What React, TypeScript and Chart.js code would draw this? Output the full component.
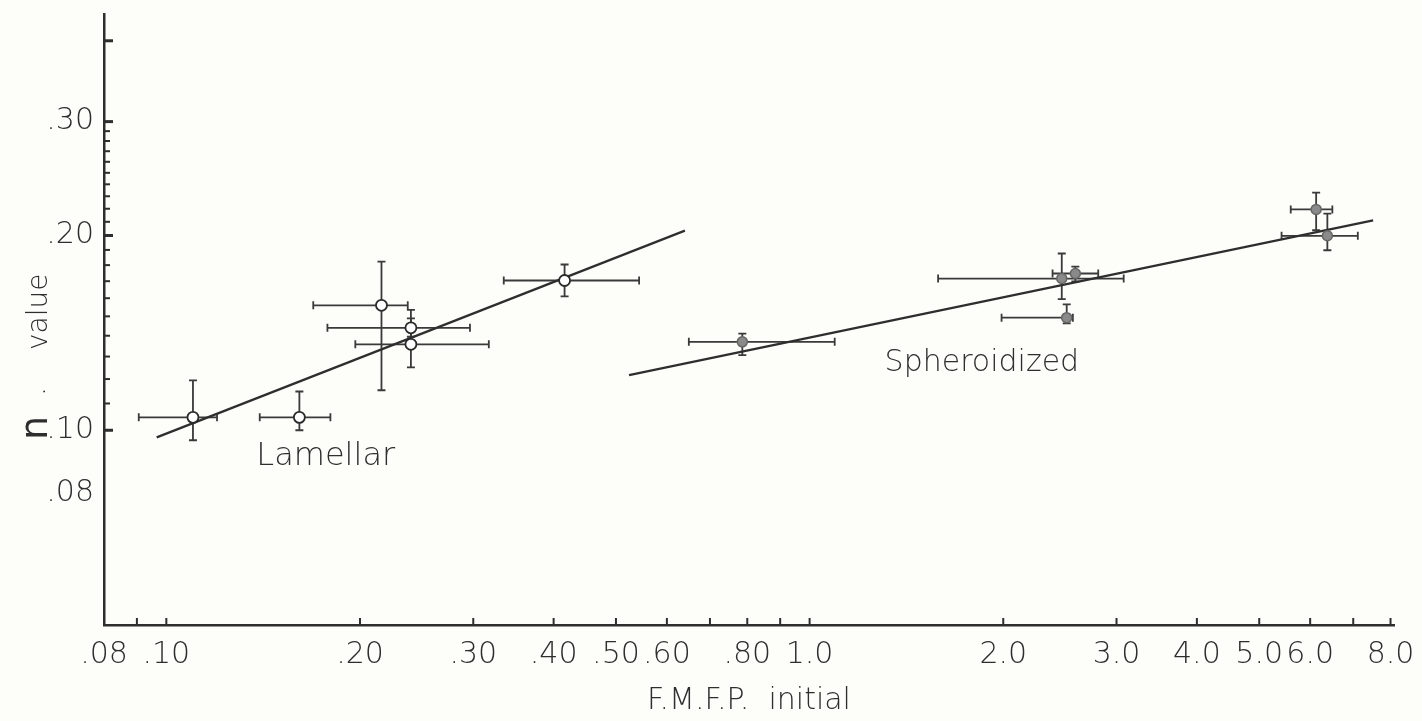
import React, { useEffect, useRef } from 'react';
import { Chart, registerables } from 'chart.js';

Chart.register(...registerables);

const FONT = '"DejaVu Sans", "Liberation Sans", sans-serif';
const INK = '#2e2e2e';

// ---- Lamellar (open circles) ----
const lamX = [0.110, 0.161, 0.216, 0.240, 0.240, 0.416];
const lamY = [0.1047, 0.1047, 0.156, 0.144, 0.1358, 0.1704];
const lamXLo = [0.0906, 0.1397, 0.1692, 0.178, 0.1967, 0.3346];
const lamXHi = [0.1199, 0.1799, 0.2373, 0.2965, 0.3172, 0.5432];
const lamYLo = [0.0965, 0.100, 0.1153, 0.1395, 0.1251, 0.161];
const lamYHi = [0.1194, 0.1148, 0.1823, 0.1535, 0.1489, 0.1804];
const lamFitX = [0.0966, 0.64];
const lamFitY = [0.0975, 0.2035];

// ---- Spheroidized (filled grey circles) ----
const sphX = [0.786, 2.466, 2.589, 2.510, 6.13, 6.381];
const sphY = [0.137, 0.1716, 0.1747, 0.1493, 0.2195, 0.1998];
const sphXLo = [0.649, 1.584, 2.386, 1.988, 5.597, 5.416];
const sphXHi = [1.094, 3.078, 2.81, 2.566, 6.496, 7.116];
const sphYLo = [0.1307, 0.1595, 0.1698, 0.1463, 0.2038, 0.1898];
const sphYHi = [0.1411, 0.1876, 0.1791, 0.1565, 0.233, 0.2162];
const sphFitX = [0.524, 7.517];
const sphFitY = [0.1217, 0.2111];

// ---- Axes ----
const xTickValues = [0.08, 0.1, 0.2, 0.3, 0.4, 0.5, 0.6, 0.8, 1, 2, 3, 4, 5, 6, 8];
const xTickLabels = ['.08', '.10', '.20', '.30', '.40', '.50', '.60', '.80', '1.0', '2.0', '3.0', '4.0', '5.0', '6.0', '8.0'];
const xMarkValues = [0.09, 0.1, 0.2, 0.3, 0.4, 0.5, 0.6, 0.7, 0.8, 0.9, 1, 2, 3, 4, 5, 6, 7, 8];
const yTickValues = [0.08, 0.1, 0.2, 0.3];
const yTickLabels = ['.08', '.10', '.20', '.30'];
const yMajorMarks = [0.1, 0.2, 0.3, 0.4];
const yMinorMarks = [0.11, 0.12, 0.13, 0.14, 0.15, 0.16, 0.17, 0.18, 0.19, 0.21, 0.22, 0.23, 0.24, 0.25, 0.26, 0.27, 0.28, 0.29];

// ---- Text annotations (data coordinates) ----
const annotations = [
  { text: 'Lamellar', x: 0.138, y: 0.0883 },
  { text: 'Spheroidized', x: 1.308, y: 0.1233 },
];

const pts = (xs: number[], ys: number[]) => xs.map((v, i) => ({ x: v, y: ys[i] }));

const bgPlugin = {
  id: 'bg',
  beforeDraw(chart: any) {
    const { ctx, width, height } = chart;
    ctx.save();
    ctx.fillStyle = '#fdfdf9';
    ctx.fillRect(0, 0, width, height);
    ctx.restore();
  },
};

const errorBarPlugin = {
  id: 'errorBars',
  beforeDatasetsDraw(chart: any) {
    const { ctx } = chart;
    const xs = chart.scales.x;
    const ys = chart.scales.y;
    ctx.save();
    ctx.strokeStyle = '#3a3a3a';
    ctx.lineWidth = 1.8;
    const cap = 4;
    const draw = (X: number[], Y: number[], xl: number[], xh: number[], yl: number[], yh: number[]) => {
      for (let i = 0; i < X.length; i++) {
        const px = xs.getPixelForValue(X[i]);
        const py = ys.getPixelForValue(Y[i]);
        const l = xs.getPixelForValue(xl[i]);
        const r = xs.getPixelForValue(xh[i]);
        const t = ys.getPixelForValue(yh[i]);
        const b = ys.getPixelForValue(yl[i]);
        ctx.beginPath();
        ctx.moveTo(l, py); ctx.lineTo(r, py);
        ctx.moveTo(l, py - cap); ctx.lineTo(l, py + cap);
        ctx.moveTo(r, py - cap); ctx.lineTo(r, py + cap);
        ctx.moveTo(px, t); ctx.lineTo(px, b);
        ctx.moveTo(px - cap, t); ctx.lineTo(px + cap, t);
        ctx.moveTo(px - cap, b); ctx.lineTo(px + cap, b);
        ctx.stroke();
      }
    };
    draw(lamX, lamY, lamXLo, lamXHi, lamYLo, lamYHi);
    draw(sphX, sphY, sphXLo, sphXHi, sphYLo, sphYHi);
    ctx.restore();
  },
};

const decorPlugin = {
  id: 'decor',
  afterDraw(chart: any) {
    const { ctx, chartArea } = chart;
    const xs = chart.scales.x;
    const ys = chart.scales.y;
    ctx.save();
    ctx.strokeStyle = INK;
    // x tick marks (inward)
    ctx.lineWidth = 2;
    xMarkValues.forEach((v) => {
      const px = xs.getPixelForValue(v);
      ctx.beginPath();
      ctx.moveTo(px, chartArea.bottom);
      ctx.lineTo(px, chartArea.bottom - 7);
      ctx.stroke();
    });
    // y tick marks
    yMinorMarks.forEach((v) => {
      const py = ys.getPixelForValue(v);
      ctx.lineWidth = 2;
      ctx.beginPath();
      ctx.moveTo(chartArea.left, py);
      ctx.lineTo(chartArea.left + 6, py);
      ctx.stroke();
    });
    yMajorMarks.forEach((v) => {
      const py = ys.getPixelForValue(v);
      ctx.lineWidth = 3;
      ctx.beginPath();
      ctx.moveTo(chartArea.left, py);
      ctx.lineTo(chartArea.left + 9, py);
      ctx.stroke();
    });
    // annotations
    ctx.fillStyle = INK;
    ctx.textBaseline = 'alphabetic';
    ctx.textAlign = 'left';
    annotations.forEach((a, i) => {
      ctx.font = `200 ${i === 0 ? 32 : 30}px ${FONT}`;
      ctx.fillText(a.text, xs.getPixelForValue(a.x), ys.getPixelForValue(a.y));
    });
    // y axis title: large "n" then "value", rotated
    ctx.translate(47, 440);
    ctx.rotate(-Math.PI / 2);
    ctx.font = `400 38px ${FONT}`;
    ctx.fillText('n', 0, 0);
    ctx.font = `200 28px ${FONT}`;
    ctx.fillText('.', 44, -2);
    ctx.fillText('value', 90, 0);
    ctx.restore();
  },
};

export default function App() {
  const ref = useRef<HTMLCanvasElement | null>(null);
  useEffect(() => {
    if (!ref.current) return;
    const tickFont = { family: FONT, size: 30, weight: 200 as any };
    const chart = new Chart(ref.current, {
      type: 'scatter',
      data: {
        datasets: [
          {
            data: pts(lamFitX, lamFitY),
            showLine: true,
            borderColor: INK,
            borderWidth: 2.2,
            pointRadius: 0,
            order: 3,
          } as any,
          {
            data: pts(sphFitX, sphFitY),
            showLine: true,
            borderColor: INK,
            borderWidth: 2.2,
            pointRadius: 0,
            order: 3,
          } as any,
          {
            data: pts(lamX, lamY),
            pointRadius: 5.5,
            pointBorderWidth: 1.8,
            pointBackgroundColor: '#ffffff',
            pointBorderColor: '#2a2a2a',
            order: 1,
          },
          {
            data: pts(sphX, sphY),
            pointRadius: 5,
            pointBorderWidth: 1.5,
            pointBackgroundColor: '#8a8a8a',
            pointBorderColor: '#666666',
            order: 1,
          },
        ],
      },
      options: {
        responsive: false,
        maintainAspectRatio: false,
        animation: false,
        layout: { padding: { top: 14, right: 28, left: 0, bottom: 0 } },
        plugins: { legend: { display: false }, tooltip: { enabled: false } },
        scales: {
          x: {
            type: 'logarithmic',
            min: 0.08,
            max: 8.1,
            afterBuildTicks: (s: any) => {
              s.ticks = xTickValues.map((v) => ({ value: v }));
            },
            afterFit: (s: any) => {
              s.height = 96;
              s.paddingLeft = 0;
              s.paddingRight = 0;
            },
            grid: { display: false, drawTicks: false },
            border: { display: true, color: INK, width: 2.5 },
            ticks: {
              autoSkip: false,
              maxRotation: 0,
              minRotation: 0,
              padding: 12,
              color: INK,
              font: tickFont,
              callback: (_v: any, i: number) => xTickLabels[i],
            },
            title: {
              display: true,
              text: 'F.M.F.P.  initial',
              color: INK,
              font: { family: FONT, size: 30, weight: 200 as any },
              padding: { top: 0, bottom: 2 },
            },
          },
          y: {
            type: 'logarithmic',
            min: 0.05,
            max: 0.44,
            afterBuildTicks: (s: any) => {
              s.ticks = yTickValues.map((v) => ({ value: v }));
            },
            afterFit: (s: any) => {
              s.width = 104;
              s.paddingTop = 0;
              s.paddingBottom = 0;
            },
            grid: { display: false, drawTicks: false },
            border: { display: true, color: INK, width: 2.5 },
            ticks: {
              autoSkip: false,
              padding: 10,
              color: INK,
              font: tickFont,
              callback: (_v: any, i: number) => yTickLabels[i],
            },
          },
        },
      },
      plugins: [bgPlugin, errorBarPlugin, decorPlugin],
    });
    return () => chart.destroy();
  }, []);
  return (
    <div style={{ position: 'fixed', left: 0, top: 0, width: 1422, height: 721, background: '#fdfdf9' }}>
      <canvas ref={ref} width={1422} height={721} style={{ display: 'block' }} />
    </div>
  );
}
